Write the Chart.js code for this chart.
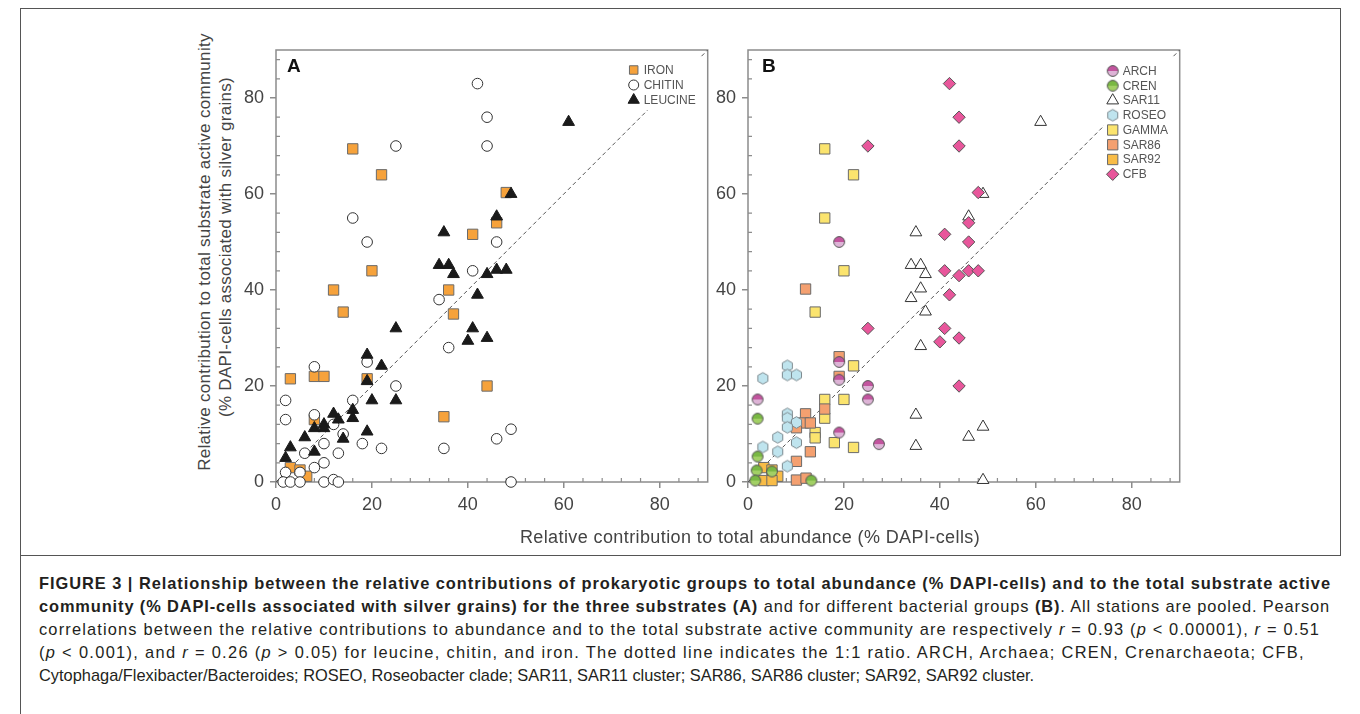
<!DOCTYPE html>
<html>
<head>
<meta charset="utf-8">
<script src="https://cdn.jsdelivr.net/npm/chart.js@4.4.1/dist/chart.umd.min.js"></script>
<style>
  body { margin: 0; background: #fff; width: 1360px; height: 714px; overflow: hidden; position: relative;
         font-family: "Liberation Sans", Arial, sans-serif; }
  #frame { position: absolute; left: 20px; top: 8px; width: 1319px; height: 546px; border: 1px solid #555; }
  #leftline { position: absolute; left: 20px; top: 555px; width: 1px; height: 160px; background: #555; }
  canvas { position: absolute; }
  #chartA { left: 180px; top: 40px; }
  #chartB { left: 708px; top: 40px; }
  .ytitle { position: absolute; width: 560px; text-align: center; font-size: 17px; letter-spacing: 0.3px;
            line-height: 20px; color: #444; transform: rotate(-90deg); white-space: nowrap; }
  #xtitle { position: absolute; left: 450px; top: 527px; width: 600px; text-align: center;
            font-size: 18px; letter-spacing: 0.4px; color: #444; white-space: nowrap; }
  #caption { position: absolute; left: 39px; top: 572px; width: 1300px; font-size: 16.4px;
             line-height: 23px; color: #231f20; }
  #caption div { white-space: nowrap; }
</style>
</head>
<body>
<div id="frame"></div>
<div id="leftline"></div>
<div class="ytitle" style="left:-75px; top:242px;">Relative contribution to total substrate active community</div>
<div class="ytitle" style="left:-54px; top:237px;">(% DAPI-cells associated with silver grains)</div>
<canvas id="chartA" width="536" height="500"></canvas>
<canvas id="chartB" width="480" height="500"></canvas>
<div id="xtitle">Relative contribution to total abundance (% DAPI-cells)</div>
<div id="caption">
  <div data-w="1292"><span><b>FIGURE 3 | Relationship between the relative contributions of prokaryotic groups to total abundance (% DAPI-cells) and to the total substrate active</b></span></div>
  <div data-w="1291"><span><b>community (% DAPI-cells associated with silver grains) for the three substrates (A)</b> and for different bacterial groups <b>(B)</b>. All stations are pooled. Pearson</span></div>
  <div data-w="1281"><span>correlations between the relative contributions to abundance and to the total substrate active community are respectively <i>r</i> = 0.93 (<i>p</i> &lt; 0.00001), <i>r</i> = 0.51</span></div>
  <div data-w="1266"><span>(<i>p</i> &lt; 0.001), and <i>r</i> = 0.26 (<i>p</i> &gt; 0.05) for leucine, chitin, and iron. The dotted line indicates the 1:1 ratio. ARCH, Archaea; CREN, Crenarchaeota; CFB,</span></div>
  <div><span>Cytophaga/Flexibacter/Bacteroides; ROSEO, Roseobacter clade; SAR11, SAR11 cluster; SAR86, SAR86 cluster; SAR92, SAR92 cluster.</span></div>
</div>

<script>
// ===== Data (x = % of abundance, y = % of substrate active community) =====
// Panel A: by substrate
const ironPts = [[16,69.4],[22,64],[41,51.6],[48,60.3],[46,54],[20,44],[12,40],[36,40],[14,35.4],[37,35],
  [3,21.5],[8,22],[10,22],[19,21.5],[44,20],[35,13.6],[8,13],[3,3],[5,2.5],[6.4,1.2]];
const chitinPts = [[42,83],[44,76],[44,70],[25,70],[16,55],[19,50],[46,50],[41,44],[34,38],[36,28],
  [19,25],[8,24],[25,20],[2,17],[16,17],[8,14],[2,13],[12,12],[14,10],[10,8],[18,8],[22,7],[35,7],
  [6,6],[13,6],[10,4],[8,3],[2,2],[5,2],[46,9],[49,11],[1.5,0],[3,0],[5,0],[10,0],[12,0.5],[13,0],[49,0]];
const leucinePts = [[61,75],[49,60],[46,55.3],[35,52],[34,45.2],[36,45.2],[37,43.3],[44,43.3],[46,44.2],
  [48,44.2],[42,39],[25,32],[41,32],[44,30],[40,29.4],[19,26.5],[22,24.2],[19,21],[20,17],[25,17],
  [16,15],[12,14.2],[13,13],[16,13.3],[10,12],[8,11.2],[10,11.2],[19,10.5],[14,9],[6,9.3],[3,7.2],
  [8,6.3],[2,5]];

// Panel B: by group
const archPts = [[19,50],[19,25],[19,21.3],[25,20],[2,17.2],[25,17.2],[19,10.3],[27.3,7.9]];
const crenPts = [[2,13.2],[2,5.3],[1.8,2.4],[5,2.2],[1.5,0.3],[13.2,0.3]];
const sar11Pts = [[61,75],[49,60],[46,55.3],[35,52],[34,45.2],[36,45.2],[37,43.3],[36,40.3],[34,38.3],
  [37,35.5],[36,28.3],[35,14],[35,7.5],[46,9.4],[49,11.5],[49,0.4]];
const roseoPts = [[8.2,24.2],[8.2,22.3],[10.1,22.3],[3.1,21.6],[8.2,14.2],[8.2,13.3],[10.1,12.4],
  [8.2,11.4],[6.2,9.3],[10.1,8.2],[3.1,7.3],[6.2,6.3],[8.2,3.3]];
const gammaPts = [[16,69.4],[22,64],[16,55],[20,44],[14,35.4],[22,24.2],[20,17.2],[16,17.2],[16,13.3],
  [14,10.3],[14,9.2],[18,8.2],[22,7.2]];
const sar86Pts = [[12,40.2],[19,26.1],[19,22],[16,15.2],[12,14.2],[11.6,12.3],[13,12.3],[10.1,11.3],
  [13,6.3],[10.1,4.3],[10.1,0.4],[12.1,0.8]];
const sar92Pts = [[3.3,3],[5,2.5],[6.2,1.2],[3.3,0.3],[5,0.3]];
const cfbPts = [[42,83],[44,76],[44,70],[25,70],[48,60.3],[46,54],[41,51.6],[46,50],[41,44],[44,43],
  [46,44],[48,44],[42,39],[25,32],[41,32],[44,30],[40,29.2],[44,20]];

const oneToOne = [[0,0],[90,90]];
const axisMin = 0, axisMax = 90, majorStep = 20, minorStep = 4;

// ===== Helpers =====
const FONT = '"Liberation Sans", Arial, sans-serif';
const toXY = arr => arr.map(p => ({ x: p[0], y: p[1] }));

// two-tone circle marker (ARCH, CREN)
function halfCircle(topColor, bottomColor, r) {
  const c = document.createElement('canvas');
  const s = Math.ceil(r * 2 + 3);
  c.width = s; c.height = s;
  const g = c.getContext('2d');
  const m = s / 2;
  g.fillStyle = bottomColor;
  g.beginPath(); g.arc(m, m, r, 0, Math.PI); g.fill();
  g.fillStyle = topColor;
  g.beginPath(); g.arc(m, m, r, Math.PI, 2 * Math.PI); g.fill();
  g.strokeStyle = '#555'; g.lineWidth = 1;
  g.beginPath(); g.arc(m, m, r, 0, 2 * Math.PI); g.stroke();
  return c;
}

// hexagon marker (ROSEO)
function hexagon(fill, r) {
  const c = document.createElement('canvas');
  const s = Math.ceil(r * 2 + 3);
  c.width = s; c.height = s;
  const g = c.getContext('2d');
  const m = s / 2;
  g.beginPath();
  for (let i = 0; i < 6; i++) {
    const a = Math.PI / 2 + i * Math.PI / 3;
    const px = m + r * Math.cos(a), py = m - r * Math.sin(a);
    if (i === 0) g.moveTo(px, py); else g.lineTo(px, py);
  }
  g.closePath();
  g.fillStyle = fill; g.fill();
  g.strokeStyle = '#7d8a8f'; g.lineWidth = 1; g.stroke();
  return c;
}

function scatterSet(label, pts, style, radius, bg, border, order) {
  return {
    type: 'scatter', label, data: toXY(pts), pointStyle: style, pointRadius: radius,
    pointHoverRadius: radius, backgroundColor: bg, borderColor: border, borderWidth: 1,
    order, clip: false
  };
}

function diagSet() {
  return {
    type: 'line', label: '1:1', data: toXY(oneToOne), borderColor: '#555', borderWidth: 1,
    borderDash: [4, 3], pointRadius: 0, fill: false, order: 100, clip: false
  };
}

// frame, inner minor ticks, panel letter, legend
const panelDecor = {
  id: 'panelDecor',
  beforeDatasetsDraw(chart, args, opts) {
    const { ctx, chartArea: a, scales: { x, y } } = chart;
    ctx.save();
    ctx.strokeStyle = '#8c8c8c';
    ctx.lineWidth = 1.5;
    ctx.strokeRect(a.left, a.top, a.right - a.left, a.bottom - a.top);
    ctx.lineWidth = 1.2;
    for (let v = axisMin + minorStep; v < axisMax; v += minorStep) {
      if (v % majorStep === 0) continue;
      const px = x.getPixelForValue(v), py = y.getPixelForValue(v);
      ctx.beginPath();
      ctx.moveTo(px, a.bottom); ctx.lineTo(px, a.bottom - 4);
      ctx.moveTo(a.left, py); ctx.lineTo(a.left + 4, py);
      ctx.stroke();
    }
    ctx.restore();
  },
  afterDatasetsDraw(chart, args, opts) {
    const { ctx, chartArea: a } = chart;
    ctx.save();
    // legend background hides the 1:1 line
    ctx.fillStyle = '#fff';
    ctx.fillRect(a.right - opts.boxW, a.top + 8, opts.boxW - 5, opts.boxH);
    ctx.font = '12px ' + FONT;
    ctx.textBaseline = 'middle';
    opts.items.forEach((idx, i) => {
      const ds = chart.data.datasets[idx];
      const yy = a.top + opts.y0 + i * opts.dy;
      const mx = a.right - opts.mx;
      ctx.fillStyle = ds.backgroundColor;
      ctx.strokeStyle = ds.borderColor;
      ctx.lineWidth = 1;
      Chart.helpers.drawPoint(ctx, {
        pointStyle: ds.pointStyle, radius: ds.legendRadius || ds.pointRadius,
        rotation: 0, borderWidth: 1
      }, mx, yy);
      ctx.fillStyle = '#555';
      ctx.fillText(ds.label, a.right - opts.tx, yy + 0.5);
    });
    // panel letter
    ctx.fillStyle = '#111';
    ctx.font = 'bold 19px ' + FONT;
    ctx.textBaseline = 'alphabetic';
    ctx.fillText(opts.letter, a.left + opts.lx, a.top + 22);
    ctx.restore();
  }
};

function axis(pos, fitSize) {
  return {
    type: 'linear', position: pos, min: axisMin, max: axisMax,
    border: { display: false },
    grid: { drawOnChartArea: false, drawTicks: true, tickLength: 6, color: '#8c8c8c', lineWidth: 1.5 },
    ticks: { stepSize: majorStep, includeBounds: false, autoSkip: false, maxRotation: 0,
             color: '#444', font: { family: FONT, size: 18 }, padding: 6 },
    afterFit: s => {
      if (pos === 'left') s.width = fitSize; else s.height = fitSize;
      // keep the plot box where the figure has it
      s.paddingTop = 0; s.paddingBottom = 0; s.paddingLeft = 0; s.paddingRight = 0;
    }
  };
}

function makeChart(id, datasets, yWidth, decor) {
  return new Chart(document.getElementById(id), {
    data: { datasets },
    options: {
      responsive: false, animation: false, devicePixelRatio: 1,
      layout: { padding: { top: 10, right: 8, left: 0, bottom: 0 } },
      scales: { x: axis('bottom', 58), y: axis('left', yWidth) },
      plugins: { legend: { display: false }, tooltip: { enabled: false }, panelDecor: decor }
    },
    plugins: [panelDecor]
  });
}

// ===== Panel A =====
const dsA = [
  scatterSet('IRON', ironPts, 'rect', 7.3, '#F6A23B', '#6a6a6a', 3),
  scatterSet('CHITIN', chitinPts, 'circle', 5.3, '#ffffff', '#333333', 2),
  scatterSet('LEUCINE', leucinePts, 'triangle', 6.8, '#1a1a1a', '#1a1a1a', 1),
  diagSet()
];
dsA[0].legendRadius = 6;
dsA[1].legendRadius = 5;
dsA[2].legendRadius = 6.5;
makeChart('chartA', dsA, 96,
  { letter: 'A', lx: 11, items: [0, 1, 2], mx: 74, tx: 64, y0: 20, dy: 15, boxW: 82, boxH: 52 });

// ===== Panel B =====
const dsB = [
  scatterSet('ARCH', archPts, halfCircle('#C2549E', '#DDB3D6', 5.4), 5.4, '#C2549E', '#555', 2),
  scatterSet('CREN', crenPts, halfCircle('#79B843', '#A2D065', 5.4), 5.4, '#79B843', '#555', 3),
  scatterSet('SAR11', sar11Pts, 'triangle', 6.8, '#ffffff', '#333333', 5),
  scatterSet('ROSEO', roseoPts, hexagon('#BFE4EE', 5.8), 5.8, '#BFE4EE', '#7d8a8f', 4),
  scatterSet('GAMMA', gammaPts, 'rect', 7.3, '#FBE46E', '#6a6a6a', 7),
  scatterSet('SAR86', sar86Pts, 'rect', 7.3, '#F4A070', '#6a6a6a', 6),
  scatterSet('SAR92', sar92Pts, 'rect', 7.3, '#F8BC47', '#6a6a6a', 8),
  scatterSet('CFB', cfbPts, 'rectRot', 6.2, '#E8569B', '#555555', 1),
  diagSet()
];
makeChart('chartB', dsB, 40,
  { letter: 'B', lx: 14, items: [0, 1, 2, 3, 4, 5, 6, 7], mx: 67, tx: 57, y0: 21, dy: 14.75, boxW: 76, boxH: 124 });

// ===== Caption: widen each printed line to where it ends in the figure =====
document.querySelectorAll('#caption div[data-w]').forEach(line => {
  const span = line.firstElementChild;
  const chars = span.textContent.trim().replace(/\s+/g, ' ').length;
  const extra = +line.dataset.w - span.getBoundingClientRect().width;
  line.style.letterSpacing = (extra / chars) + 'px';
});
</script>
</body>
</html>
